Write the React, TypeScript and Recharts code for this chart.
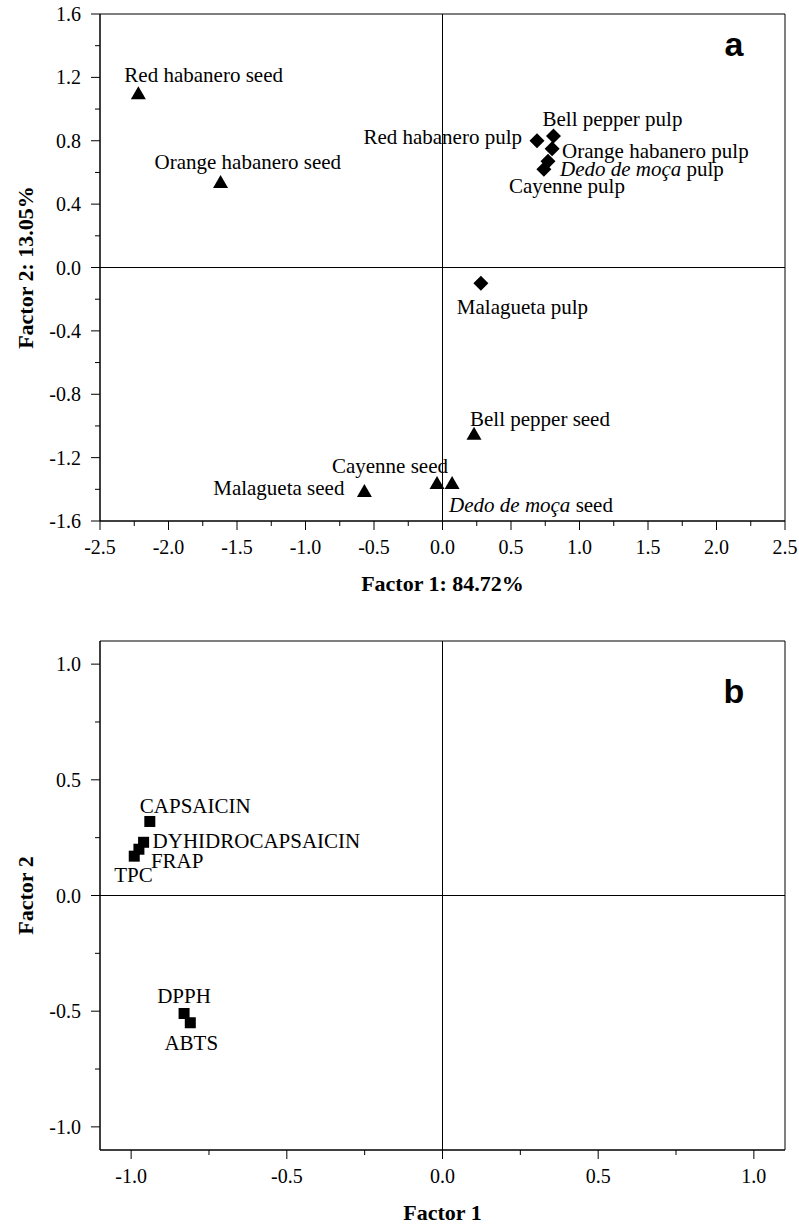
import React from 'react';
import { ScatterChart, Scatter, XAxis, YAxis, ReferenceLine, ReferenceArea, Label } from 'recharts';

const SERIF = '"Liberation Serif", "Times New Roman", serif';
const SANS = '"Liberation Sans", Arial, sans-serif';

// ---- Chart a: samples (scores) ----
const seedNames = ['Red habanero seed', 'Orange habanero seed', 'Malagueta seed', 'Cayenne seed', 'Dedo de moça seed', 'Bell pepper seed'];
const seedF1 = [-2.22, -1.62, -0.57, -0.04, 0.07, 0.23];
const seedF2 = [1.10, 0.54, -1.41, -1.36, -1.36, -1.05];

const pulpNames = ['Red habanero pulp', 'Bell pepper pulp', 'Orange habanero pulp', 'Dedo de moça pulp', 'Cayenne pulp', 'Malagueta pulp'];
const pulpF1 = [0.69, 0.81, 0.80, 0.77, 0.74, 0.28];
const pulpF2 = [0.80, 0.83, 0.75, 0.67, 0.62, -0.10];

// ---- Chart b: variables (loadings) ----
const varNames = ['CAPSAICIN', 'DYHIDROCAPSAICIN', 'FRAP', 'TPC', 'DPPH', 'ABTS'];
const varF1 = [-0.94, -0.96, -0.975, -0.99, -0.83, -0.81];
const varF2 = [0.32, 0.23, 0.20, 0.17, -0.51, -0.55];

// ---- Tick values ----
const xMajorA = [-2.5, -2, -1.5, -1, -0.5, 0, 0.5, 1, 1.5, 2, 2.5];
const xMinorA = [-2.25, -1.75, -1.25, -0.75, -0.25, 0.25, 0.75, 1.25, 1.75, 2.25];
const yMajorA = [-1.6, -1.2, -0.8, -0.4, 0, 0.4, 0.8, 1.2, 1.6];
const yMinorA = [-1.4, -1.0, -0.6, -0.2, 0.2, 0.6, 1.0, 1.4];
const xMajorB = [-1, -0.5, 0, 0.5, 1];
const xMinorB = [-0.75, -0.25, 0.25, 0.75];
const yMajorB = [-1, -0.5, 0, 0.5, 1];
const yMinorB = [-0.75, -0.25, 0.25, 0.75];

// ---- Label placement (styling, relative to each marker) ----
const labelLayout: Record<string, { dx: number; dy: number; anchor: 'start' | 'middle' | 'end' }> = {
  'Red habanero seed': { dx: -14, dy: -11, anchor: 'start' },
  'Orange habanero seed': { dx: -66, dy: -13, anchor: 'start' },
  'Malagueta seed': { dx: -20, dy: 4, anchor: 'end' },
  'Cayenne seed': { dx: 11, dy: -10, anchor: 'end' },
  'Dedo de moça seed': { dx: -3, dy: 29, anchor: 'start' },
  'Bell pepper seed': { dx: -4, dy: -8, anchor: 'start' },
  'Red habanero pulp': { dx: -15, dy: 3, anchor: 'end' },
  'Bell pepper pulp': { dx: -11, dy: -10, anchor: 'start' },
  'Orange habanero pulp': { dx: 10, dy: 9, anchor: 'start' },
  'Dedo de moça pulp': { dx: 12, dy: 15, anchor: 'start' },
  'Cayenne pulp': { dx: -35, dy: 24, anchor: 'start' },
  'Malagueta pulp': { dx: -24, dy: 31, anchor: 'start' },
  CAPSAICIN: { dx: -10, dy: -8, anchor: 'start' },
  DYHIDROCAPSAICIN: { dx: 9, dy: 6, anchor: 'start' },
  FRAP: { dx: 12, dy: 19, anchor: 'start' },
  TPC: { dx: -20, dy: 26, anchor: 'start' },
  DPPH: { dx: 0, dy: -10, anchor: 'middle' },
  ABTS: { dx: 1, dy: 27, anchor: 'middle' },
};

const toPoints = (names: string[], xs: number[], ys: number[]) =>
  names.map((name, i) => ({ name, x: xs[i], y: ys[i] }));

const seedData = toPoints(seedNames, seedF1, seedF2);
const pulpData = toPoints(pulpNames, pulpF1, pulpF2);
const varData = toPoints(varNames, varF1, varF2);

const MAJOR = 9;
const MINOR = 5;
const YGAP = 10;
const XGAP = 9;
const TICK_FS = 20;
const LABEL_FS = 21;

const isIn = (list: number[], v: number) => list.some((m) => Math.abs(m - v) < 1e-6);
const sorted = (a: number[], b: number[]) => [...a, ...b].sort((p, q) => p - q);

function makeYTick(majors: number[]) {
  return function YTick(props: any) {
    const { x, y, payload } = props;
    const v = Number(payload.value);
    const major = isIn(majors, v);
    const ax = x + MAJOR + YGAP;
    return (
      <g>
        <line x1={ax - (major ? MAJOR : MINOR)} x2={ax} y1={y} y2={y} stroke="#000" strokeWidth={1} />
        {major && (
          <text x={x} y={y} dy="0.35em" textAnchor="end" fontFamily={SERIF} fontSize={TICK_FS} fill="#000">
            {v.toFixed(1)}
          </text>
        )}
      </g>
    );
  };
}

function makeXTick(majors: number[]) {
  return function XTick(props: any) {
    const { x, y, payload } = props;
    const v = Number(payload.value);
    const major = isIn(majors, v);
    const ay = y - MAJOR - XGAP;
    return (
      <g>
        <line x1={x} x2={x} y1={ay} y2={ay + (major ? MAJOR : MINOR)} stroke="#000" strokeWidth={1} />
        {major && (
          <text x={x} y={y} dy="0.75em" textAnchor="middle" fontFamily={SERIF} fontSize={TICK_FS} fill="#000">
            {v.toFixed(1)}
          </text>
        )}
      </g>
    );
  };
}

function renderName(name: string) {
  const pre = 'Dedo de moça';
  if (name.startsWith(pre)) {
    return [
      <tspan key="i" fontStyle="italic">{pre}</tspan>,
      <tspan key="r">{name.slice(pre.length)}</tspan>,
    ];
  }
  return name;
}

function makeShape(kind: 'tri' | 'dia' | 'sq') {
  return function Shape(props: any) {
    const { cx, cy, payload } = props;
    if (cx == null || cy == null) return <g />;
    let mark: React.ReactNode;
    if (kind === 'tri') {
      mark = <polygon points={`${cx},${cy - 7} ${cx + 7.5},${cy + 6} ${cx - 7.5},${cy + 6}`} fill="#000" />;
    } else if (kind === 'dia') {
      mark = <polygon points={`${cx},${cy - 7.5} ${cx + 7.5},${cy} ${cx},${cy + 7.5} ${cx - 7.5},${cy}`} fill="#000" />;
    } else {
      mark = <rect x={cx - 5.5} y={cy - 5.5} width={11} height={11} fill="#000" />;
    }
    const lay = labelLayout[payload.name] || { dx: 8, dy: -8, anchor: 'start' };
    return (
      <g>
        {mark}
        <text x={cx + lay.dx} y={cy + lay.dy} textAnchor={lay.anchor} fontFamily={SERIF} fontSize={LABEL_FS} fill="#000">
          {renderName(payload.name)}
        </text>
      </g>
    );
  };
}

function xTitle(text: string, offset: number) {
  return function XT(p: any) {
    const vb = p.viewBox || { x: 100, y: 0, width: 685, height: 60 };
    return (
      <text x={vb.x + vb.width / 2} y={vb.y + offset} textAnchor="middle" fontFamily={SERIF} fontWeight="bold" fontSize={22} fill="#000">
        {text}
      </text>
    );
  };
}

function yTitle(text: string, cxTitle: number) {
  return function YT(p: any) {
    const vb = p.viewBox || { x: 0, y: 0, width: 100, height: 500 };
    const cy = vb.y + vb.height / 2;
    return (
      <text
        x={cxTitle}
        y={cy}
        transform={`rotate(-90, ${cxTitle}, ${cy})`}
        textAnchor="middle"
        dominantBaseline="central"
        fontFamily={SERIF}
        fontWeight="bold"
        fontSize={22}
        fill="#000"
      >
        {text}
      </text>
    );
  };
}

function panelLetter(letter: string, fromRight: number, fromTop: number) {
  return function PL(p: any) {
    const vb = p.viewBox || { x: 100, y: 0, width: 685, height: 500 };
    return (
      <text x={vb.x + vb.width - fromRight} y={vb.y + fromTop} textAnchor="middle" dominantBaseline="central" fontFamily={SANS} fontWeight="bold" fontSize={34} fill="#000">
        {letter}
      </text>
    );
  };
}

export default function App() {
  return (
    <div style={{ position: 'absolute', left: 0, top: 0, width: 799, height: 1231, background: '#fff' }}>
      <div style={{ position: 'absolute', left: 0, top: 0 }}>
        <ScatterChart width={799} height={600} margin={{ top: 14, right: 14, bottom: 19, left: 0 }}>
          <XAxis
            type="number"
            dataKey="x"
            domain={[-2.5, 2.5]}
            allowDataOverflow
            ticks={sorted(xMajorA, xMinorA)}
            interval={0}
            height={60}
            tickSize={MAJOR}
            tickMargin={XGAP}
            tickLine={false}
            axisLine={{ stroke: '#000' }}
            tick={makeXTick(xMajorA)}
            label={<Label content={xTitle('Factor 1: 84.72%', 70)} />}
          />
          <YAxis
            type="number"
            dataKey="y"
            domain={[-1.6, 1.6]}
            allowDataOverflow
            ticks={sorted(yMajorA, yMinorA)}
            interval={0}
            width={100}
            tickSize={MAJOR}
            tickMargin={YGAP}
            tickLine={false}
            axisLine={{ stroke: '#000' }}
            tick={makeYTick(yMajorA)}
            label={<Label content={yTitle('Factor 2: 13.05%', 25)} />}
          />
          <ReferenceArea x1={-2.5} x2={2.5} y1={-1.6} y2={1.6} fill="none" stroke="#000" strokeWidth={1} ifOverflow="visible"
            label={<Label content={panelLetter('a', 51, 30)} />} />
          <ReferenceLine x={0} stroke="#000" strokeWidth={1} />
          <ReferenceLine y={0} stroke="#000" strokeWidth={1} />
          <Scatter data={seedData} shape={makeShape('tri')} isAnimationActive={false} />
          <Scatter data={pulpData} shape={makeShape('dia')} isAnimationActive={false} />
        </ScatterChart>
      </div>
      <div style={{ position: 'absolute', left: 0, top: 600 }}>
        <ScatterChart width={799} height={631} margin={{ top: 41, right: 14, bottom: 21, left: 0 }}>
          <XAxis
            type="number"
            dataKey="x"
            domain={[-1.1, 1.1]}
            allowDataOverflow
            ticks={sorted(xMajorB, xMinorB)}
            interval={0}
            height={60}
            tickSize={MAJOR}
            tickMargin={XGAP}
            tickLine={false}
            axisLine={{ stroke: '#000' }}
            tick={makeXTick(xMajorB)}
            label={<Label content={xTitle('Factor 1', 70)} />}
          />
          <YAxis
            type="number"
            dataKey="y"
            domain={[-1.1, 1.1]}
            allowDataOverflow
            ticks={sorted(yMajorB, yMinorB)}
            interval={0}
            width={100}
            tickSize={MAJOR}
            tickMargin={YGAP}
            tickLine={false}
            axisLine={{ stroke: '#000' }}
            tick={makeYTick(yMajorB)}
            label={<Label content={yTitle('Factor 2', 25)} />}
          />
          <ReferenceArea x1={-1.1} x2={1.1} y1={-1.1} y2={1.1} fill="none" stroke="#000" strokeWidth={1} ifOverflow="visible"
            label={<Label content={panelLetter('b', 51, 50)} />} />
          <ReferenceLine x={0} stroke="#000" strokeWidth={1} />
          <ReferenceLine y={0} stroke="#000" strokeWidth={1} />
          <Scatter data={varData} shape={makeShape('sq')} isAnimationActive={false} />
        </ScatterChart>
      </div>
    </div>
  );
}
